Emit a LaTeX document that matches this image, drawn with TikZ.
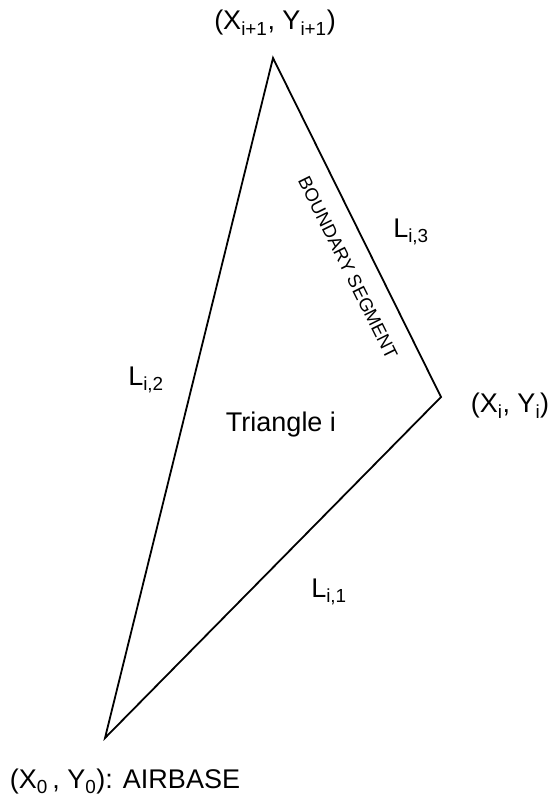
\documentclass[tikz,border=0pt]{standalone}
\usepackage{fontspec}
\setmainfont{Liberation Sans}
\usetikzlibrary{positioning}
\begin{document}
\begin{tikzpicture}[x=1pt, y=-1pt,
    etiqueta/.style={font=\fontsize{27}{30}\selectfont, inner sep=0pt},
    lado/.style={line width=1.8pt}]
  \useasboundingbox (0,0) rectangle (550,797);

  % Vértices del triángulo
  \coordinate (base) at (105,738);
  \coordinate (vi) at (441,397);
  \coordinate (vsig) at (273,58);

  % Lados del triángulo
  \draw[lado] (base) -- (vi) -- (vsig) -- cycle;

  % Etiquetas de los vértices
  \node[etiqueta] (tsig) at (275,23) {(X\textsubscript{i+1}, Y\textsubscript{i+1})};
  \node[etiqueta] (ti) at (510,406) {(X\textsubscript{i}, Y\textsubscript{i})};
  \node[etiqueta] (tbase) at (125,782) {(X\textsubscript{0}\,, Y\textsubscript{0}): AIRBASE};

  % Etiquetas de los lados
  \node[etiqueta] (l1) at (329,592) {L\textsubscript{i,1}};
  \node[etiqueta] (l2) at (146,380) {L\textsubscript{i,2}};
  \node[etiqueta] (l3) at (411,232) {L\textsubscript{i,3}};

  % Interior y segmento de frontera
  \node[etiqueta] (tri) at (281,425) {Triangle i};
  \node[font=\fontsize{18.5}{20}\selectfont, inner sep=0pt, rotate=-63.6] (frontera) at (348,268) {BOUNDARY SEGMENT};
\end{tikzpicture}
\end{document}
